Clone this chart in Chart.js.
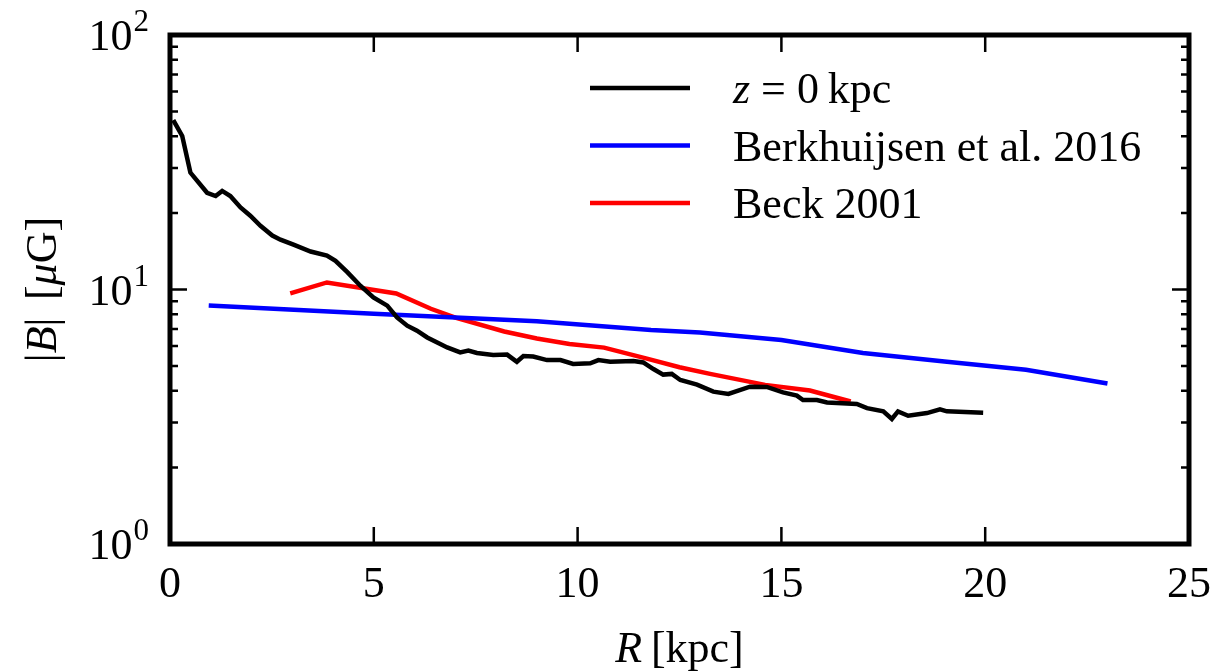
<!DOCTYPE html>
<html>
<head>
<meta charset="utf-8">
<script src="https://cdn.jsdelivr.net/npm/chart.js@4"></script>
<style>
  html, body { margin: 0; padding: 0; background: #fff; }
  canvas { display: block; }
</style>
</head>
<body>
<canvas id="field" width="1217" height="671"></canvas>
<script>
// simulation, z = 0 kpc
const R_sim = [0.08, 0.3, 0.5, 0.91, 1.12, 1.28, 1.48, 1.73, 1.97, 2.22, 2.51, 2.71, 3.03, 3.45, 3.85, 4.06,
    4.35, 4.67, 4.99, 5.33, 5.57, 5.82, 6.06, 6.31, 6.63, 6.8, 7.12, 7.32, 7.53, 7.93, 8.27, 8.51, 8.67, 8.91,
    9.25, 9.58, 9.89, 10.31, 10.51, 10.8, 11.37, 11.61, 11.86, 12.1, 12.31, 12.52, 12.93, 13.33, 13.7, 14.23,
    14.64, 15.04, 15.38, 15.53, 15.87, 16.12, 16.85, 17.1, 17.5, 17.71, 17.86, 18.11, 18.57, 18.89, 19.06, 19.95]
const B_sim = [46.3, 40.1, 28.8, 24.0, 23.3, 24.4, 23.3, 21.0, 19.5, 17.8, 16.3, 15.7, 15.0, 14.1, 13.6, 12.97,
    11.7, 10.35, 9.31, 8.64, 7.77, 7.21, 6.89, 6.48, 6.11, 5.92, 5.66, 5.75, 5.63, 5.53, 5.55, 5.20, 5.48, 5.45,
    5.28, 5.28, 5.10, 5.13, 5.28, 5.20, 5.24, 5.17, 4.87, 4.63, 4.66, 4.41, 4.23, 3.97, 3.89, 4.15,
    4.14, 3.94, 3.83, 3.68, 3.68, 3.60, 3.55, 3.42, 3.32, 3.10, 3.32, 3.19, 3.27, 3.38, 3.32, 3.28]

// Berkhuijsen et al. 2016
const R_berk = [0.95, 5, 9, 11.8, 13, 15, 17, 19, 21, 23]
const B_berk = [8.66, 8.03, 7.5, 6.93, 6.78, 6.33, 5.63, 5.21, 4.84, 4.27]

// Beck 2001
const R_beck = [2.95, 3.85, 5.55, 6.4, 7.0, 8.2, 9.0, 9.8, 10.65, 11.7, 12.5, 13.25, 14.6, 15.7, 16.7]
const B_beck = [9.65, 10.66, 9.65, 8.40, 7.75, 6.84, 6.42, 6.11, 5.91, 5.35, 4.95, 4.66, 4.22, 4.01, 3.63]

const xTicks = [0, 5, 10, 15, 20, 25]
const yExponents = [0, 1, 2]

function pairs(xs, ys) {
    return xs.map((x, i) => ({ x: x, y: ys[i] }))
}

const SERIF = '"Liberation Serif", "DejaVu Serif", serif'
const FS = 44

const legendItems = [
    { color: '#000000', parts: [['italic', 'z'], ['normal', ' = 0\u2009kpc']] },
    { color: '#0000ff', parts: [['normal', 'Berkhuijsen et al. 2016']] },
    { color: '#ff0000', parts: [['normal', 'Beck 2001']] },
]

function drawParts(ctx, parts, x, y, size) {
    parts.forEach(p => {
        ctx.font = p[0] + ' ' + size + 'px ' + SERIF
        ctx.fillText(p[1], x, y)
        x += ctx.measureText(p[1]).width
    })
    return x
}

function partsWidth(ctx, parts, size) {
    let w = 0
    parts.forEach(p => {
        ctx.font = p[0] + ' ' + size + 'px ' + SERIF
        w += ctx.measureText(p[1]).width
    })
    return w
}

const frame = {
    id: 'frame',
    afterDraw(chart) {
        const ctx = chart.ctx
        const a = chart.chartArea
        const xs = chart.scales.x
        const ys = chart.scales.y
        ctx.save()
        ctx.strokeStyle = '#000'
        ctx.fillStyle = '#000'

        // ticks, pointing inward on every side
        ctx.lineWidth = 2.5
        ctx.beginPath()
        xTicks.forEach(t => {
            const px = xs.getPixelForValue(t)
            ctx.moveTo(px, a.bottom); ctx.lineTo(px, a.bottom - 17)
            ctx.moveTo(px, a.top); ctx.lineTo(px, a.top + 17)
        })
        yExponents.forEach(e => {
            const py = ys.getPixelForValue(Math.pow(10, e))
            ctx.moveTo(a.left, py); ctx.lineTo(a.left + 17, py)
            ctx.moveTo(a.right, py); ctx.lineTo(a.right - 17, py)
            if (e < 2) {
                for (let m = 2; m <= 9; m++) {
                    const pm = ys.getPixelForValue(m * Math.pow(10, e))
                    ctx.moveTo(a.left, pm); ctx.lineTo(a.left + 8, pm)
                    ctx.moveTo(a.right, pm); ctx.lineTo(a.right - 8, pm)
                }
            }
        })
        ctx.stroke()

        ctx.lineWidth = 5
        ctx.strokeRect(a.left, a.top, a.right - a.left, a.bottom - a.top)

        // x tick labels
        ctx.textAlign = 'center'
        ctx.textBaseline = 'alphabetic'
        ctx.font = FS + 'px ' + SERIF
        xTicks.forEach(t => {
            ctx.fillText(String(t), xs.getPixelForValue(t), a.bottom + 53)
        })

        // y tick labels 10^e
        ctx.textAlign = 'left'
        yExponents.forEach(e => {
            const py = ys.getPixelForValue(Math.pow(10, e))
            ctx.font = FS + 'px ' + SERIF
            const wBase = ctx.measureText('10').width
            ctx.font = '31px ' + SERIF
            const wExp = ctx.measureText(String(e)).width
            const x0 = a.left - 22 - wBase - wExp
            ctx.font = FS + 'px ' + SERIF
            ctx.fillText('10', x0, py + 15)
            ctx.font = '31px ' + SERIF
            ctx.fillText(String(e), x0 + wBase + 1, py - 4)
        })

        // axis titles
        const xl = [['italic', 'R'], ['normal', '\u2009[kpc]']]
        const wx = partsWidth(ctx, xl, FS)
        drawParts(ctx, xl, (a.left + a.right) / 2 - wx / 2, 662, FS)

        ctx.save()
        ctx.translate(56, (a.top + a.bottom) / 2)
        ctx.rotate(-Math.PI / 2)
        const yl = [['normal', '|'], ['italic', 'B'], ['normal', '|\u2009\u2009['], ['italic', '\u03bc'], ['normal', 'G]']]
        const wy = partsWidth(ctx, yl, FS)
        drawParts(ctx, yl, -wy / 2, 0, FS)
        ctx.restore()

        // legend
        legendItems.forEach((item, i) => {
            const y = 88 + i * 57.5
            ctx.lineWidth = 4.5
            ctx.strokeStyle = item.color
            ctx.beginPath()
            ctx.moveTo(590, y); ctx.lineTo(690, y)
            ctx.stroke()
            ctx.fillStyle = '#000'
            drawParts(ctx, item.parts, 733, y + 15, FS)
        })
        ctx.restore()
    }
}

new Chart(document.getElementById('field'), {
    type: 'line',
    data: {
        datasets: [
            { label: 'z = 0 kpc', data: pairs(R_sim, B_sim), borderColor: '#000000' },
            { label: 'Berkhuijsen et al. 2016', data: pairs(R_berk, B_berk), borderColor: '#0000ff' },
            { label: 'Beck 2001', data: pairs(R_beck, B_beck), borderColor: '#ff0000' },
        ].map(d => Object.assign(d, { borderWidth: 4.5, pointRadius: 0, tension: 0, fill: false }))
    },
    options: {
        responsive: false,
        devicePixelRatio: 1,
        animation: false,
        layout: { padding: { left: 170, right: 28, top: 35, bottom: 127 } },
        scales: {
            x: { type: 'linear', min: 0, max: 25, display: false },
            y: { type: 'logarithmic', min: 1, max: 100, display: false }
        },
        plugins: { legend: { display: false }, tooltip: { enabled: false } }
    },
    plugins: [frame]
})
</script>
</body>
</html>
